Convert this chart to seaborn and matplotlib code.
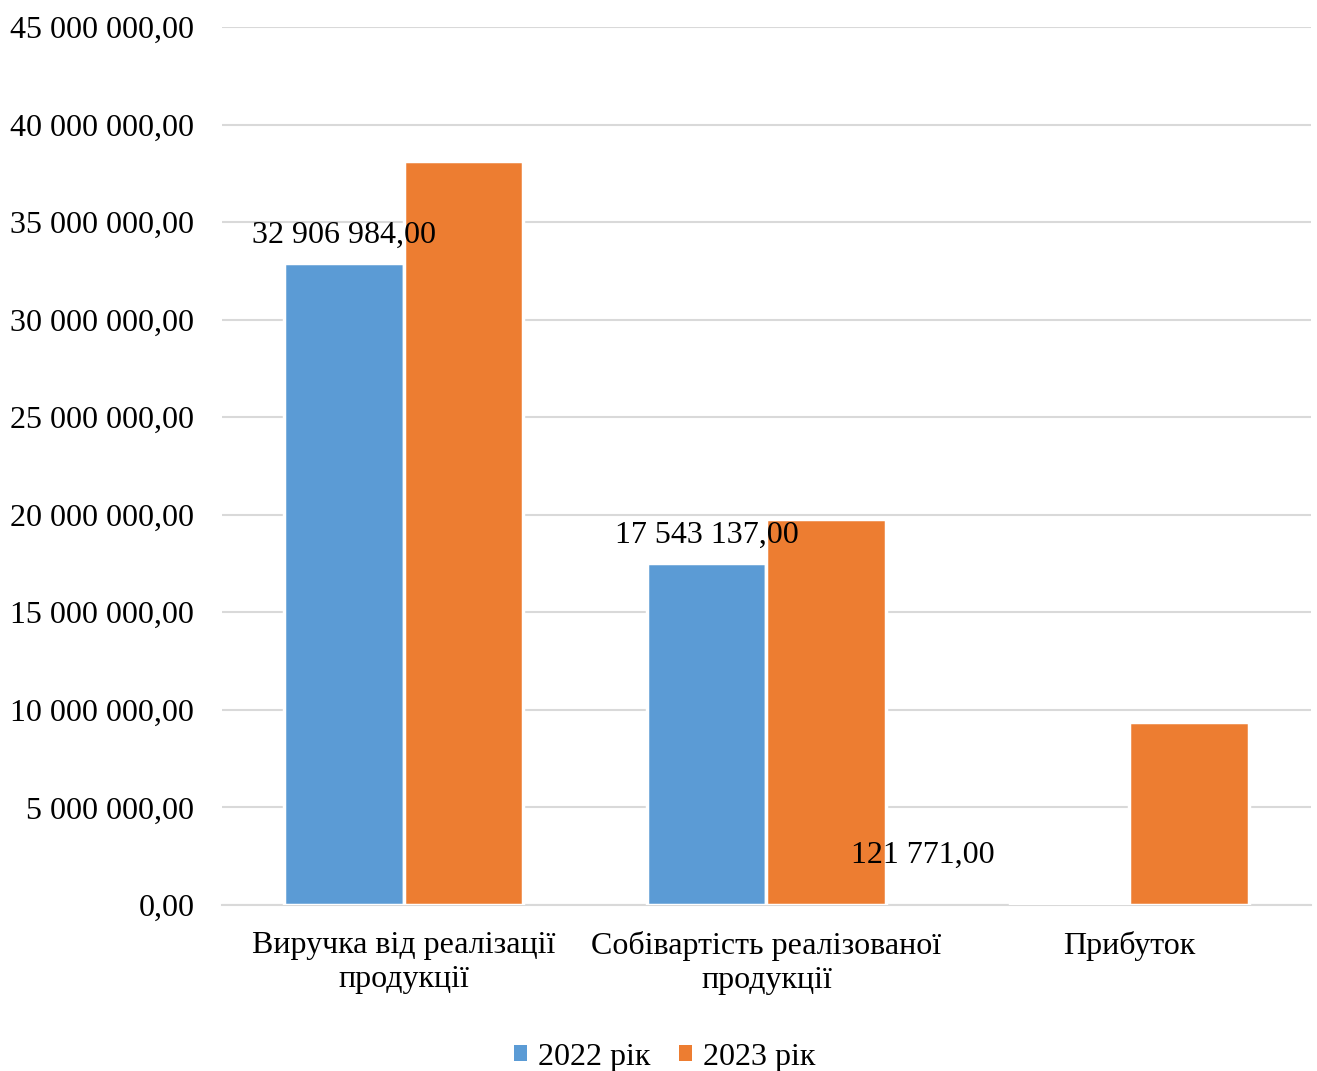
import pandas as pd
import seaborn as sns
import matplotlib.pyplot as plt
from matplotlib.patches import Patch
from matplotlib.ticker import FuncFormatter, FixedLocator

categories = ['Виручка від реалізації\nпродукції',
              'Собівартість реалізованої\nпродукції',
              'Прибуток']
years = ['2022 рік', '2023 рік']
values_2022 = [32906984.00, 17543137.00, 121771.00]
values_2023 = [38130000.00, 19780000.00, 9380000.00]
label_text_2022 = ['32 906 984,00', '17 543 137,00', '121 771,00']
colors = ['#5B9BD5', '#ED7D31']

df = pd.DataFrame({
    'Показник': categories * 2,
    'Рік': [years[0]] * 3 + [years[1]] * 3,
    'Сума': values_2022 + values_2023,
})

sns.set_style('white')
plt.rcParams['font.family'] = ['Liberation Serif', 'DejaVu Serif']
plt.rcParams['font.size'] = 23
plt.rcParams['text.color'] = 'black'
plt.rcParams['xtick.color'] = 'black'
plt.rcParams['ytick.color'] = 'black'

fig = plt.figure(figsize=(13.17, 10.71), dpi=100)
ax = fig.add_axes([0.1686, 0.155, 0.8268, 0.8198])

sns.barplot(data=df, x='Показник', y='Сума', hue='Рік', order=categories,
            hue_order=years, palette=colors, width=0.66, errorbar=None,
            edgecolor='white', linewidth=2.5, saturation=1, legend=False, ax=ax, zorder=3)

# ось y
def money_fmt(v, pos):
    s = f'{v:,.2f}'.replace(',', ' ').replace('.', ',')
    return s

ax.set_ylim(0, 45000000)
ax.yaxis.set_major_locator(FixedLocator(range(0, 45000001, 5000000)))
ax.yaxis.set_major_formatter(FuncFormatter(money_fmt))
ax.grid(axis='y', color='#d9d9d9', linewidth=1.5, zorder=0)
ax.set_axisbelow(True)
ax.tick_params(axis='y', length=0, pad=20, labelsize=23, labelcolor='black')

ax.set_xlim(-0.5, 2.5)
ax.tick_params(axis='x', which='major', length=0, pad=19, labelsize=23, labelcolor='black')
ax.set_xticks([-0.5, 0.5, 1.5, 2.5], minor=True)
ax.tick_params(axis='x', which='minor', length=7, width=1.5, color='#d9d9d9')
ax.set_xlabel('')
ax.set_ylabel('')

for side in ['top', 'right', 'left']:
    ax.spines[side].set_visible(False)
ax.spines['bottom'].set_color('#d9d9d9')
ax.spines['bottom'].set_linewidth(1.5)

# підписи даних 2022
bars_2022 = ax.patches[:3]
offsets = [(0, 28), (0, 27), (-147, 47)]
for bar, txt, off in zip(bars_2022, label_text_2022, offsets):
    ax.annotate(txt, (bar.get_x() + bar.get_width() / 2, bar.get_height()),
                xytext=off, textcoords='offset pixels', ha='center', va='center',
                fontsize=23, color='black', zorder=5)

handles = [Patch(facecolor=c, edgecolor='none') for c in colors]
fig.legend(handles, years, loc='center', bbox_to_anchor=(0.505, 1 - 1057 / 1071),
           ncol=2, frameon=False, fontsize=23, handlelength=0.4, handleheight=0.4,
           handletextpad=0.35, columnspacing=0.9, labelcolor='black')

fig.savefig('out.png', dpi=100)
